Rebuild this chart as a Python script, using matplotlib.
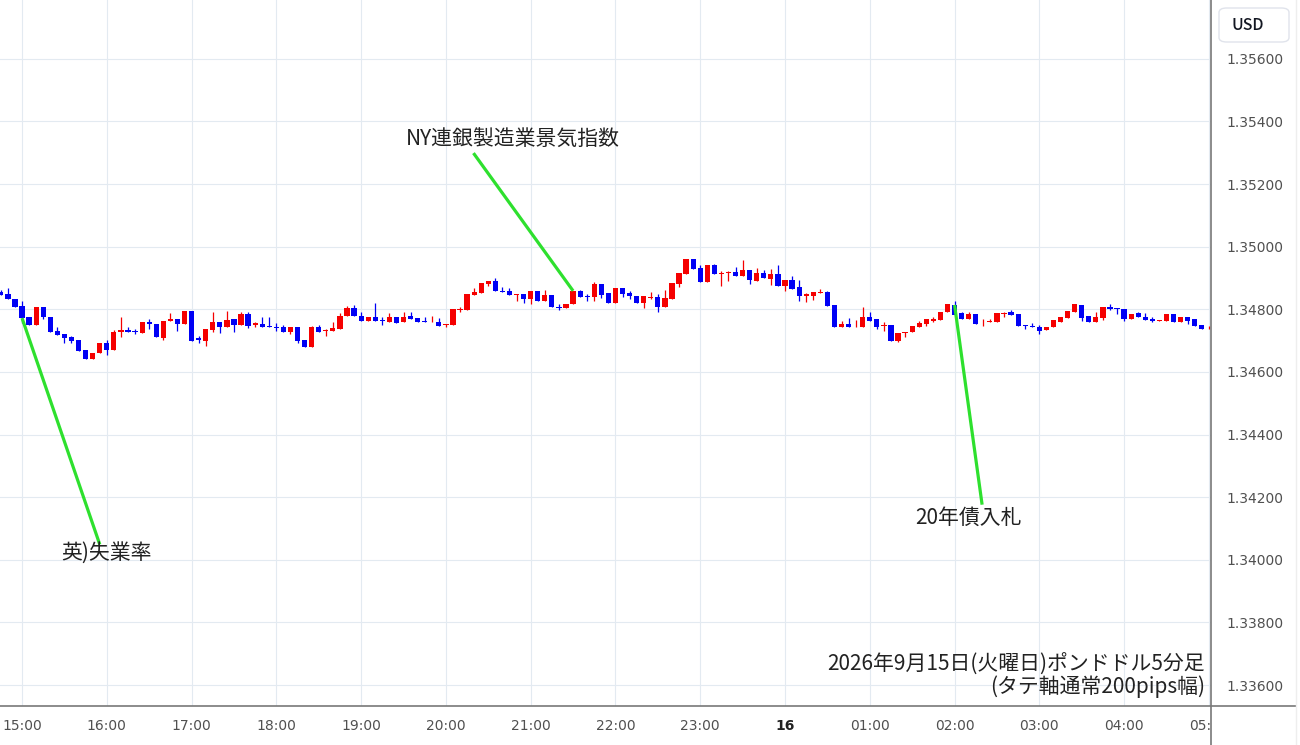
# ポンドドル5分足 (2026-09-15 14:45 〜 09-16 05:00) のローソク足チャート
import numpy as np
import matplotlib
matplotlib.use("Agg")
import matplotlib.pyplot as plt
from matplotlib.patches import Rectangle, FancyBboxPatch
from matplotlib.lines import Line2D

plt.rcParams["font.family"] = ["Noto Sans CJK JP", "DejaVu Sans"]

# 5分足 OHLC (14:45 から順に)
opens = [1.34854, 1.34850, 1.34834, 1.34811, 1.34774, 1.34750, 1.34809, 1.34777, 1.34732, 1.34722,
         1.34713, 1.34702, 1.34670, 1.34641, 1.34660, 1.34692, 1.34670, 1.34726, 1.34734, 1.34731,
         1.34724, 1.34758, 1.34754, 1.34708, 1.34764, 1.34769, 1.34754, 1.34795, 1.34708, 1.34700,
         1.34734, 1.34761, 1.34743, 1.34769, 1.34750, 1.34785, 1.34750, 1.34753, 1.34747, 1.34745,
         1.34743, 1.34726, 1.34743, 1.34702, 1.34681, 1.34743, 1.34731, 1.34731, 1.34738, 1.34779,
         1.34804, 1.34780, 1.34763, 1.34777, 1.34766, 1.34759, 1.34777, 1.34758, 1.34779, 1.34772,
         1.34763, 1.34758, 1.34761, 1.34750, 1.34750, 1.34798, 1.34798, 1.34846, 1.34852, 1.34881,
         1.34892, 1.34859, 1.34857, 1.34846, 1.34850, 1.34833, 1.34857, 1.34828, 1.34846, 1.34807,
         1.34804, 1.34817, 1.34857, 1.34841, 1.34838, 1.34882, 1.34853, 1.34820, 1.34868, 1.34852,
         1.34843, 1.34820, 1.34836, 1.34839, 1.34809, 1.34834, 1.34881, 1.34913, 1.34962, 1.34932,
         1.34886, 1.34940, 1.34913, 1.34916, 1.34919, 1.34908, 1.34926, 1.34892, 1.34916, 1.34898,
         1.34913, 1.34876, 1.34894, 1.34870, 1.34844, 1.34841, 1.34852, 1.34855, 1.34814, 1.34742,
         1.34753, 1.34742, 1.34742, 1.34774, 1.34769, 1.34747, 1.34750, 1.34700, 1.34724, 1.34726,
         1.34745, 1.34753, 1.34764, 1.34766, 1.34791, 1.34814, 1.34788, 1.34769, 1.34786, 1.34758,
         1.34758, 1.34759, 1.34785, 1.34793, 1.34786, 1.34750, 1.34748, 1.34743, 1.34734, 1.34743,
         1.34761, 1.34772, 1.34793, 1.34814, 1.34779, 1.34761, 1.34772, 1.34806, 1.34804, 1.34802,
         1.34769, 1.34788, 1.34777, 1.34769, 1.34763, 1.34764, 1.34785, 1.34759, 1.34774, 1.34769,
         1.34750, 1.34742]
highs = [1.34862, 1.34868, 1.34834, 1.34827, 1.34774, 1.34809, 1.34809, 1.34777, 1.34744, 1.34722,
         1.34716, 1.34702, 1.34670, 1.34662, 1.34692, 1.34702, 1.34734, 1.34774, 1.34745, 1.34738,
         1.34758, 1.34769, 1.34754, 1.34764, 1.34788, 1.34769, 1.34795, 1.34795, 1.34715, 1.34737,
         1.34793, 1.34761, 1.34796, 1.34769, 1.34791, 1.34793, 1.34761, 1.34774, 1.34774, 1.34756,
         1.34750, 1.34743, 1.34743, 1.34702, 1.34748, 1.34750, 1.34738, 1.34761, 1.34788, 1.34812,
         1.34814, 1.34790, 1.34777, 1.34820, 1.34774, 1.34788, 1.34777, 1.34791, 1.34791, 1.34772,
         1.34777, 1.34780, 1.34772, 1.34754, 1.34802, 1.34807, 1.34850, 1.34868, 1.34884, 1.34892,
         1.34900, 1.34871, 1.34868, 1.34850, 1.34850, 1.34857, 1.34857, 1.34862, 1.34846, 1.34818,
         1.34818, 1.34859, 1.34862, 1.34849, 1.34887, 1.34882, 1.34853, 1.34868, 1.34868, 1.34857,
         1.34843, 1.34841, 1.34854, 1.34850, 1.34862, 1.34884, 1.34916, 1.34962, 1.34962, 1.34942,
         1.34940, 1.34945, 1.34923, 1.34923, 1.34935, 1.34958, 1.34926, 1.34932, 1.34926, 1.34930,
         1.34942, 1.34894, 1.34905, 1.34894, 1.34852, 1.34854, 1.34865, 1.34859, 1.34814, 1.34764,
         1.34772, 1.34766, 1.34807, 1.34790, 1.34769, 1.34758, 1.34750, 1.34724, 1.34727, 1.34747,
         1.34764, 1.34769, 1.34777, 1.34793, 1.34817, 1.34827, 1.34793, 1.34791, 1.34786, 1.34769,
         1.34769, 1.34788, 1.34793, 1.34798, 1.34786, 1.34750, 1.34756, 1.34750, 1.34745, 1.34766,
         1.34774, 1.34795, 1.34817, 1.34814, 1.34779, 1.34791, 1.34806, 1.34817, 1.34804, 1.34802,
         1.34785, 1.34791, 1.34788, 1.34774, 1.34766, 1.34785, 1.34785, 1.34774, 1.34774, 1.34769,
         1.34750, 1.34748]
lows = [1.34846, 1.34833, 1.34809, 1.34757, 1.34750, 1.34750, 1.34770, 1.34729, 1.34718, 1.34693,
        1.34694, 1.34668, 1.34641, 1.34641, 1.34660, 1.34654, 1.34670, 1.34713, 1.34726, 1.34722,
        1.34724, 1.34737, 1.34711, 1.34702, 1.34764, 1.34732, 1.34754, 1.34700, 1.34694, 1.34683,
        1.34726, 1.34724, 1.34743, 1.34729, 1.34750, 1.34740, 1.34745, 1.34745, 1.34743, 1.34732,
        1.34726, 1.34722, 1.34692, 1.34681, 1.34681, 1.34726, 1.34716, 1.34731, 1.34738, 1.34779,
        1.34779, 1.34763, 1.34763, 1.34763, 1.34750, 1.34759, 1.34756, 1.34758, 1.34769, 1.34761,
        1.34758, 1.34758, 1.34747, 1.34743, 1.34750, 1.34793, 1.34798, 1.34846, 1.34852, 1.34875,
        1.34857, 1.34855, 1.34846, 1.34828, 1.34820, 1.34817, 1.34828, 1.34828, 1.34807, 1.34798,
        1.34804, 1.34817, 1.34839, 1.34828, 1.34828, 1.34836, 1.34820, 1.34820, 1.34839, 1.34833,
        1.34820, 1.34804, 1.34833, 1.34793, 1.34809, 1.34834, 1.34871, 1.34913, 1.34930, 1.34886,
        1.34886, 1.34913, 1.34875, 1.34892, 1.34908, 1.34908, 1.34881, 1.34892, 1.34900, 1.34878,
        1.34876, 1.34857, 1.34866, 1.34827, 1.34822, 1.34830, 1.34852, 1.34812, 1.34742, 1.34742,
        1.34742, 1.34742, 1.34742, 1.34764, 1.34737, 1.34731, 1.34700, 1.34697, 1.34713, 1.34726,
        1.34745, 1.34747, 1.34758, 1.34766, 1.34791, 1.34782, 1.34769, 1.34769, 1.34754, 1.34748,
        1.34758, 1.34759, 1.34777, 1.34782, 1.34748, 1.34737, 1.34745, 1.34722, 1.34734, 1.34743,
        1.34761, 1.34772, 1.34793, 1.34764, 1.34761, 1.34761, 1.34766, 1.34798, 1.34785, 1.34764,
        1.34769, 1.34774, 1.34766, 1.34758, 1.34763, 1.34764, 1.34759, 1.34759, 1.34754, 1.34747,
        1.34738, 1.34737]
closes = [1.34846, 1.34833, 1.34809, 1.34772, 1.34750, 1.34809, 1.34775, 1.34729, 1.34718, 1.34710,
          1.34699, 1.34668, 1.34641, 1.34662, 1.34692, 1.34670, 1.34727, 1.34734, 1.34726, 1.34726,
          1.34758, 1.34753, 1.34711, 1.34764, 1.34769, 1.34754, 1.34795, 1.34700, 1.34702, 1.34737,
          1.34761, 1.34745, 1.34766, 1.34750, 1.34785, 1.34747, 1.34756, 1.34745, 1.34743, 1.34740,
          1.34726, 1.34743, 1.34700, 1.34681, 1.34743, 1.34729, 1.34734, 1.34740, 1.34780, 1.34804,
          1.34779, 1.34763, 1.34777, 1.34763, 1.34763, 1.34777, 1.34756, 1.34777, 1.34769, 1.34761,
          1.34758, 1.34761, 1.34747, 1.34754, 1.34802, 1.34802, 1.34850, 1.34855, 1.34884, 1.34892,
          1.34857, 1.34855, 1.34846, 1.34850, 1.34833, 1.34857, 1.34828, 1.34846, 1.34807, 1.34804,
          1.34818, 1.34859, 1.34839, 1.34838, 1.34882, 1.34846, 1.34820, 1.34868, 1.34850, 1.34841,
          1.34820, 1.34841, 1.34839, 1.34809, 1.34836, 1.34884, 1.34916, 1.34962, 1.34930, 1.34886,
          1.34940, 1.34913, 1.34916, 1.34919, 1.34908, 1.34926, 1.34894, 1.34916, 1.34900, 1.34913,
          1.34876, 1.34894, 1.34866, 1.34841, 1.34849, 1.34854, 1.34855, 1.34812, 1.34742, 1.34753,
          1.34742, 1.34745, 1.34774, 1.34764, 1.34743, 1.34750, 1.34700, 1.34724, 1.34727, 1.34747,
          1.34756, 1.34769, 1.34769, 1.34793, 1.34817, 1.34782, 1.34769, 1.34786, 1.34754, 1.34761,
          1.34764, 1.34788, 1.34788, 1.34782, 1.34748, 1.34747, 1.34745, 1.34731, 1.34745, 1.34766,
          1.34774, 1.34795, 1.34817, 1.34772, 1.34761, 1.34774, 1.34806, 1.34802, 1.34801, 1.34769,
          1.34785, 1.34774, 1.34766, 1.34764, 1.34766, 1.34785, 1.34759, 1.34774, 1.34764, 1.34747,
          1.34738, 1.34745]

# 時間軸ラベル (15:00 が 4本目の足、以後12本ごと)
hour_labels = ["15:00", "16:00", "17:00", "18:00", "19:00", "20:00", "21:00", "22:00",
               "23:00", "16", "01:00", "02:00", "03:00", "04:00", "05:00"]
price_ticks = [1.336, 1.338, 1.340, 1.342, 1.344, 1.346, 1.348, 1.350, 1.352, 1.354, 1.356]

# 指標イベント: (ラベル, 足の番号, 線の先端価格, 線の端, 文字位置)
events = [("英)失業率", 3, closes[3], (14.0, 1.34049), (14.9, 1.34022)),
          ("NY連銀製造業景気指数", 81, highs[81], (66.9, 1.35299), (72.5, 1.35341)),
          ("20年債入札", 135, opens[135], (138.9, 1.34176), (137.0, 1.34135))]

W, H = 1300, 745
fig = plt.figure(figsize=(W / 100, H / 100), dpi=100)
ax = fig.add_axes([0, 39 / H, 1211 / W, 706 / H])

RED, BLUE = "#f50000", "#0000f5"
o = np.array(opens); c = np.array(closes)
hi = np.array(highs); lo = np.array(lows)
x = np.arange(len(o))
col = np.where(c >= o, RED, BLUE)
ax.vlines(x, lo, hi, colors=col, lw=0.9, zorder=3)
body = np.maximum(np.abs(c - o), 0.000025)
ax.bar(x, body, bottom=np.minimum(o, c), width=0.74, color=col, lw=0, zorder=4)

ax.set_xlim(-0.12, 171.3)
ax.set_ylim(1.33533, 1.35788)

# グリッド
ax.set_xticks(3 + 12 * np.arange(len(hour_labels)))
ax.set_xticklabels(hour_labels)
ax.set_yticks(price_ticks)
ax.set_yticklabels([f"{p:.5f}" for p in price_ticks])
ax.grid(True, color="#e3eaf1", lw=0.8, zorder=0)
ax.set_axisbelow(True)
ax.yaxis.tick_right()
ax.tick_params(axis="both", length=0, labelsize=10, labelcolor="#505050")
ax.tick_params(axis="x", pad=9)
ax.tick_params(axis="y", pad=11)
for t in ax.get_xticklabels():
    t.set_family(["DejaVu Sans"])
    if t.get_text() == "16":
        t.set_fontweight("bold")
        t.set_color("#222222")
for t in ax.get_yticklabels():
    t.set_family(["DejaVu Sans"])
for s in ax.spines.values():
    s.set_visible(False)

GREEN = "#2ee02e"
for label, i, p, (bx, by), (tx, ty) in events:
    ax.plot([i, bx], [p, by], color=GREEN, lw=2.3, solid_capstyle="butt", zorder=5)
    ax.text(tx, ty, label, ha="center", va="center", fontsize=15, color="#222222", zorder=6)

# 右側の価格パネルと枠線
fig.patches.append(Rectangle((1212 / W, 0), (W - 1212) / W, 38 / H, transform=fig.transFigure,
                             facecolor="white", edgecolor="none", zorder=5))
fig.add_artist(Line2D([1211 / W, 1211 / W], [0, 1], color="#787878", lw=1.2, zorder=6))
fig.add_artist(Line2D([0, 1296 / W], [39 / H, 39 / H], color="#787878", lw=1.2, zorder=6))
fig.add_artist(Line2D([1296 / W, 1296 / W], [0, 1], color="#eeeeee", lw=1, zorder=6))
fig.patches.append(FancyBboxPatch((1219 / W, (H - 42) / H), 70 / W, 34 / H,
                                  boxstyle="round,pad=0,rounding_size=0.006",
                                  transform=fig.transFigure, facecolor="white",
                                  edgecolor="#e0e3eb", lw=1, zorder=6))
fig.text(1248 / W, (H - 25) / H, "USD", ha="center", va="center", fontsize=11.5,
         fontweight="medium", color="#131722", zorder=7)

fig.text(1205 / W, (H - 665) / H, "2026年9月15日(火曜日)ポンドドル5分足",
         ha="right", va="center", fontsize=15, color="#222222", zorder=7)
fig.text(1205 / W, (H - 687) / H, "(タテ軸通常200pips幅)",
         ha="right", va="center", fontsize=15, color="#222222", zorder=7)

fig.savefig("out.png", dpi=100)
